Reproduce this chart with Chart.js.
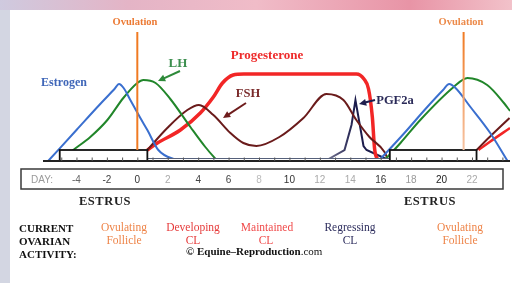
<!DOCTYPE html>
<html>
<head>
<meta charset="utf-8">
<script src="https://cdn.jsdelivr.net/npm/chart.js@4/dist/chart.umd.min.js"></script>
<style>
  html, body { margin: 0; padding: 0; }
  body {
    width: 512px; height: 283px; position: relative; overflow: hidden;
    background: linear-gradient(90deg, #cfcadf 0%, #e4b4c6 25%, #f0bcc8 50%, #e894a6 80%, #f2c2ca 100%);
  }
  #leftStrip { position: absolute; left: 0; top: 10px; width: 10px; height: 273px; background: #d3d6e2; }
  #panel { position: absolute; left: 10px; top: 10px; width: 502px; height: 273px; background: #fff; }
  #wrap { position: absolute; left: 0; top: 0; width: 512px; height: 283px; }
  .t {
    position: absolute; transform: translate(-50%, -50%);
    font-family: 'Liberation Serif', 'DejaVu Serif', serif; font-weight: bold;
    white-space: nowrap; line-height: 1;
  }
  .l { transform: translate(0, -50%); }
  .n { font-weight: normal; }
</style>
</head>
<body>
<div id="leftStrip"></div>
<div id="panel"></div>
<div id="wrap"><canvas id="cycleChart"></canvas></div>

<!-- hormone labels -->
<div class="t" style="left:135px;top:22px;font-size:10.5px;color:#ec7a34">Ovulation</div>
<div class="t" style="left:461px;top:22px;font-size:10.5px;color:#ec8a4a">Ovulation</div>
<div class="t" style="left:64px;top:82px;font-size:12px;color:#3f66b8">Estrogen</div>
<div class="t" style="left:178px;top:62px;font-size:13px;color:#3d8f4f">LH</div>
<div class="t" style="left:267px;top:54px;font-size:13px;color:#ee2a2a">Progesterone</div>
<div class="t" style="left:248px;top:93px;font-size:12.5px;color:#7a2a2a">FSH</div>
<div class="t" style="left:395px;top:100px;font-size:12.5px;color:#2a2a58">PGF2a</div>

<!-- bottom text -->
<div class="t" style="left:105px;top:201px;font-size:12.5px;color:#222;letter-spacing:0.6px">ESTRUS</div>
<div class="t" style="left:430px;top:201px;font-size:12.5px;color:#222;letter-spacing:0.6px">ESTRUS</div>
<div class="t l" style="left:19px;top:228px;font-size:11px;color:#111">CURRENT</div>
<div class="t l" style="left:19px;top:241px;font-size:11px;color:#111">OVARIAN</div>
<div class="t l" style="left:19px;top:254px;font-size:11px;color:#111">ACTIVITY:</div>

<div class="t n" style="left:124px;top:228px;font-size:11.5px;color:#ee8448">Ovulating</div>
<div class="t n" style="left:124px;top:241px;font-size:11.5px;color:#ee8448">Follicle</div>
<div class="t n" style="left:193px;top:228px;font-size:11.5px;color:#e63a3a">Developing</div>
<div class="t n" style="left:193px;top:241px;font-size:11.5px;color:#e63a3a">CL</div>
<div class="t n" style="left:267px;top:228px;font-size:11.5px;color:#f04a4a">Maintained</div>
<div class="t n" style="left:266px;top:241px;font-size:11.5px;color:#f04a4a">CL</div>
<div class="t n" style="left:350px;top:228px;font-size:11.5px;color:#2e2e5e">Regressing</div>
<div class="t n" style="left:350px;top:241px;font-size:11.5px;color:#2e2e5e">CL</div>
<div class="t n" style="left:460px;top:228px;font-size:11.5px;color:#ee8448">Ovulating</div>
<div class="t n" style="left:460px;top:241px;font-size:11.5px;color:#ee8448">Follicle</div>
<div class="t l" style="left:186px;top:251px;font-size:11px;color:#111">© Equine–Reproduction<span class="n">.com</span></div>

<script>
// hormone curves as [day, relative level]
const estrogen1 = [[-5.86, 0], [-4, 31], [-2.5, 56], [-1.5, 72], [-1.2, 77], [-0.9, 73], [-0.46, 61], [0.2, 43], [0.66, 31], [1.38, 11], [2.7, 0]];
const estrogen2 = [[15.86, 0], [17.5, 27], [19, 53], [20.1, 71], [20.5, 77], [20.92, 73], [21.9, 54], [23.2, 28], [24.34, 0]];
const lh1 = [[-5.1, 0], [-4.21, 11], [-3.09, 24], [-1.97, 41], [-0.92, 63], [0, 78], [0.4, 81], [1.2, 78], [2.17, 62], [3.49, 34], [4.47, 14], [5.26, 0]];
const lh2 = [[16.2, 0], [17.3, 18], [18.6, 41], [20.8, 74], [21.7, 83], [23.0, 76], [24.1, 58], [24.5, 50]];
const progesterone1 = [[0.66, 11], [1.32, 18], [2.83, 31], [4.14, 48], [5, 64], [5.6, 78], [6.3, 86], [7, 87], [14.4, 87], [14.9, 82], [15.2, 72], [15.45, 44], [15.6, 12], [15.86, 0]];
const progesterone2 = [[22.43, 11], [23.16, 19], [24.5, 33]];
const fsh1 = [[0.66, 11], [1.97, 33], [3.29, 51], [4.05, 56], [5, 46], [6.12, 28], [6.97, 18], [7.83, 15], [9.34, 24], [10.92, 43], [12.43, 67], [13.55, 61], [14.4, 41], [15.26, 24], [16.25, 9], [16.51, 0]];
const fsh2 = [[22.3, 11], [23.16, 24], [24.47, 43]];
const pgf2a = [[8, 2], [12.57, 2], [13.62, 11], [14.08, 36], [14.34, 61], [14.87, 15], [15.07, 11], [16.51, 1]];

// cycle markers
const ovulationDays = [0, 21.45];
const estrusPeriods = [[-5.1, 0.66], [16.6, 22.3]];
const diestrusPeriod = [0.66, 16.6];
const dayTicks = [-4, -2, 0, 2, 4, 6, 8, 10, 12, 14, 16, 18, 20, 22];
const dayTickColors = ['#666', '#444', '#333', '#aaa', '#444', '#444', '#bbb', '#333', '#aaa', '#aaa', '#333', '#999', '#222', '#aaa'];

const toPoints = arr => arr.map(p => ({ x: p[0], y: p[1] }));

function line(label, data, color, width) {
    return {
        label: label,
        data: toPoints(data),
        borderColor: color,
        borderWidth: width,
        pointRadius: 0,
        fill: false,
        cubicInterpolationMode: 'monotone'
    };
}

const pgfGradient = (context) => {
    const chart = context.chart;
    if (!chart.chartArea) return '#1e1e4e';
    const xs = chart.scales.x;
    const g = chart.ctx.createLinearGradient(xs.getPixelForValue(8), 0, xs.getPixelForValue(14.3), 0);
    g.addColorStop(0, '#c4c4cc');
    g.addColorStop(0.6, '#9a9aae');
    g.addColorStop(1, '#1c1c4c');
    return g;
};

function arrow(ctx, x1, y1, x2, y2, color) {
    const a = Math.atan2(y2 - y1, x2 - x1);
    ctx.strokeStyle = color;
    ctx.fillStyle = color;
    ctx.lineWidth = 2;
    ctx.beginPath();
    ctx.moveTo(x1, y1);
    ctx.lineTo(x2 - 4 * Math.cos(a), y2 - 4 * Math.sin(a));
    ctx.stroke();
    ctx.beginPath();
    ctx.moveTo(x2, y2);
    ctx.lineTo(x2 - 8 * Math.cos(a - 0.45), y2 - 8 * Math.sin(a - 0.45));
    ctx.lineTo(x2 - 8 * Math.cos(a + 0.45), y2 - 8 * Math.sin(a + 0.45));
    ctx.closePath();
    ctx.fill();
}

// draws the estrus boxes, ovulation lines, day strip and arrows
const cycleDiagram = {
    id: 'cycleDiagram',
    afterDatasetsDraw(chart) {
        const { ctx, chartArea, scales: { x, y } } = chart;
        const px = d => x.getPixelForValue(d);
        const py = v => y.getPixelForValue(v);
        ctx.save();

        // thin diestrus strip
        ctx.fillStyle = '#fff';
        ctx.strokeStyle = '#55607a';
        ctx.lineWidth = 1;
        ctx.fillRect(px(diestrusPeriod[0]), py(2.5), px(diestrusPeriod[1]) - px(diestrusPeriod[0]), py(0) - py(2.5));
        ctx.strokeRect(px(diestrusPeriod[0]), py(2.5), px(diestrusPeriod[1]) - px(diestrusPeriod[0]), py(0) - py(2.5));

        // estrus boxes
        ctx.lineWidth = 1.8;
        ctx.strokeStyle = '#111';
        estrusPeriods.forEach(p => {
            const x0 = px(p[0]), x1 = px(p[1]);
            ctx.fillStyle = '#fff';
            ctx.fillRect(x0, py(11), x1 - x0, py(0) - py(11));
            ctx.strokeRect(x0, py(11), x1 - x0, py(0) - py(11));
        });

        // baseline and day ticks
        ctx.strokeStyle = '#222';
        ctx.lineWidth = 2;
        ctx.beginPath();
        ctx.moveTo(chartArea.left, py(0));
        ctx.lineTo(chartArea.right, py(0));
        ctx.stroke();
        ctx.lineWidth = 1;
        ctx.strokeStyle = '#555';
        for (let d = -5; d <= 24; d++) {
            ctx.beginPath();
            ctx.moveTo(px(d) + 0.5, py(0));
            ctx.lineTo(px(d) + 0.5, py(3.5));
            ctx.stroke();
        }

        // ovulation lines
        ovulationDays.forEach((d, i) => {
            const g = ctx.createLinearGradient(0, py(129), 0, py(11));
            g.addColorStop(0, '#f07a22');
            g.addColorStop(1, i === 0 ? '#f07a22' : '#f6c4a4');
            ctx.strokeStyle = g;
            ctx.lineWidth = 2;
            ctx.beginPath();
            ctx.moveTo(px(d), py(11));
            ctx.lineTo(px(d), py(129));
            ctx.stroke();
        });

        // label arrows
        arrow(ctx, 180, 71, 158, 81, '#2e8a3a');
        arrow(ctx, 246, 103, 223, 118, '#6e1c1c');
        arrow(ctx, 375, 100, 359, 104, '#1e1e4e');

        // day row box
        ctx.fillStyle = '#fff';
        ctx.fillRect(21, 169, 482, 20);
        ctx.strokeStyle = '#3a3a3a';
        ctx.lineWidth = 1.5;
        ctx.strokeRect(21, 169, 482, 20);
        ctx.font = '10px "Liberation Sans", Arial, sans-serif';
        ctx.textBaseline = 'middle';
        ctx.textAlign = 'left';
        ctx.fillStyle = '#999';
        ctx.fillText('DAY:', 31, 180);
        ctx.textAlign = 'center';
        dayTicks.forEach((d, i) => {
            ctx.fillStyle = dayTickColors[i];
            ctx.fillText(String(d), px(d), 180);
        });
        ctx.restore();
    }
};

new Chart(document.getElementById('cycleChart'), {
    type: 'line',
    data: {
        datasets: [
            line('Estrogen', estrogen1, '#3a6fcf', 2),
            line('Estrogen 2', estrogen2, '#3a6fcf', 2),
            line('LH', lh1, '#21862a', 2),
            line('LH 2', lh2, '#21862a', 2),
            line('FSH', fsh1, '#6a1b1b', 2),
            line('FSH 2', fsh2, '#6a1b1b', 2),
            line('Progesterone', progesterone1, '#f22626', 3.5),
            line('Progesterone 2', progesterone2, '#f22626', 2.5),
            {
                label: 'PGF2a',
                data: toPoints(pgf2a),
                borderColor: pgfGradient,
                borderWidth: 2,
                pointRadius: 0,
                fill: false,
                tension: 0
            }
        ]
    },
    options: {
        responsive: true,
        maintainAspectRatio: false,
        animation: false,
        layout: { padding: { left: 43, right: 2, top: 30, bottom: 122 } },
        scales: {
            x: { type: 'linear', min: -6.2, max: 24.5, display: false },
            y: { min: 0, max: 131, display: false }
        },
        plugins: {
            legend: { display: false },
            tooltip: { enabled: false }
        }
    },
    plugins: [cycleDiagram]
});
</script>
</body>
</html>
